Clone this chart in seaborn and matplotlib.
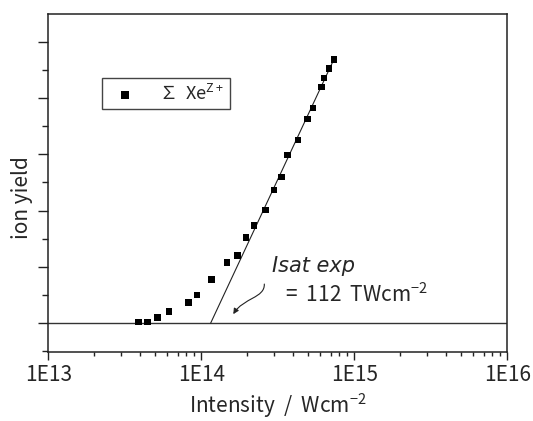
import numpy as np
import pandas as pd
import matplotlib
matplotlib.use("Agg")
import matplotlib.pyplot as plt
import seaborn as sns
from matplotlib.path import Path
from matplotlib.patches import FancyArrowPatch

# ---- data ----
intensity = [3.88e13, 4.44e13, 5.19e13, 6.15e13, 8.22e13, 9.37e13, 1.162e14,
             1.472e14, 1.729e14, 1.96e14, 2.21e14, 2.62e14, 2.99e14, 3.34e14,
             3.65e14, 4.30e14, 4.96e14, 5.37e14, 6.09e14, 6.34e14, 6.84e14, 7.37e14]
ion_yield = [0.05, 0.04, 0.20, 0.41, 0.74, 1.00, 1.56, 2.15, 2.41, 3.05, 3.48,
             4.02, 4.73, 5.19, 5.97, 6.50, 7.25, 7.64, 8.39, 8.71, 9.05, 9.37]
fit_x = [1.15e14, 7.4e14]
fit_y = [0.0, 9.4]
xtick_vals = [1e13, 1e14, 1e15, 1e16]
xtick_labels = ["1E13", "1E14", "1E15", "1E16"]
series_label = "∑  Xe$^{\\mathrm{Z+}}$"

df = pd.DataFrame({"intensity": intensity, "yield": ion_yield})
fit = pd.DataFrame({"x": fit_x, "y": fit_y})

sns.set_style("ticks")
plt.rcParams["font.family"] = ["Noto Sans CJK JP", "DejaVu Sans"]
plt.rcParams["mathtext.fontset"] = "custom"
plt.rcParams["mathtext.rm"] = "Noto Sans CJK JP"
plt.rcParams["mathtext.it"] = "Noto Sans CJK JP"
plt.rcParams["mathtext.bf"] = "Noto Sans CJK JP"
plt.rcParams["axes.unicode_minus"] = True

fig = plt.figure(figsize=(5.33, 4.21), dpi=100)
ax = fig.add_axes([0.0906, 0.1639, 0.8612, 0.8028])

ax.axhline(0, color="#333333", lw=1.0, zorder=1)
sns.lineplot(data=fit, x="x", y="y", color="#222222", lw=0.8, ax=ax,
             sort=False, estimator=None, legend=False, zorder=2)
sns.scatterplot(data=df, x="intensity", y="yield", marker="s", color="black",
                s=22, edgecolor="none", label=series_label, ax=ax, zorder=3)

ax.set_xscale("log")
ax.set_xlim(1e13, 1e16)
ax.set_ylim(-1.02, 10.98)
ax.set_xticks(xtick_vals)
ax.set_xticklabels(xtick_labels)
ax.set_yticks(np.arange(0, 11, 2))
ax.set_yticks(np.arange(-1, 11, 2), minor=True)
ax.set_yticklabels([])
ax.xaxis.set_minor_locator(matplotlib.ticker.LogLocator(base=10, subs=np.arange(2, 10)))
ax.xaxis.set_minor_formatter(matplotlib.ticker.NullFormatter())

ax.tick_params(axis="x", which="major", direction="out", length=6, width=1,
               labelsize=15, pad=3, color="#222222")
ax.tick_params(axis="x", which="minor", direction="out", length=3, width=1, color="#222222")
ax.tick_params(axis="y", which="major", direction="out", length=7, width=1, color="#222222")
ax.tick_params(axis="y", which="minor", direction="out", length=4, width=1, color="#222222")
ax.tick_params(top=False, right=False, which="both")

for sp in ax.spines.values():
    sp.set_visible(True)
    sp.set_color("#222222")
    sp.set_linewidth(1.1)

ax.set_xlabel("Intensity  /  Wcm$^{-2}$", fontsize=15)
ax.xaxis.set_label_coords(0.5, -0.118)
ax.set_ylabel("ion yield", fontsize=15)
ax.yaxis.set_label_coords(-0.058, 0.456)
ax.yaxis.label.set_va("center")

leg = ax.legend(loc="upper left", bbox_to_anchor=(0.116, 0.81), borderaxespad=0,
                fontsize=13, frameon=True, fancybox=False, framealpha=1,
                edgecolor="#444444", handlelength=2.0, handletextpad=0.9,
                borderpad=0.3, markerscale=1.1)
leg.get_frame().set_linewidth(1.0)

ax.text(0.487, 0.254, "Isat exp", transform=ax.transAxes, fontsize=15,
        family="DejaVu Sans", style="italic", ha="left", va="center")
ax.text(0.516, 0.169, "=  112  TWcm$^{-2}$", transform=ax.transAxes, fontsize=15,
        ha="left", va="center")

arrow_path = Path([(0.4706, 0.201), (0.472, 0.160), (0.425, 0.160), (0.403, 0.112)],
                  [Path.MOVETO, Path.CURVE4, Path.CURVE4, Path.CURVE4])
arr = FancyArrowPatch(path=arrow_path, arrowstyle="-|>", mutation_scale=8,
                      color="#222222", lw=0.8, transform=ax.transAxes)
ax.add_patch(arr)

fig.savefig("out.png", dpi=100)
